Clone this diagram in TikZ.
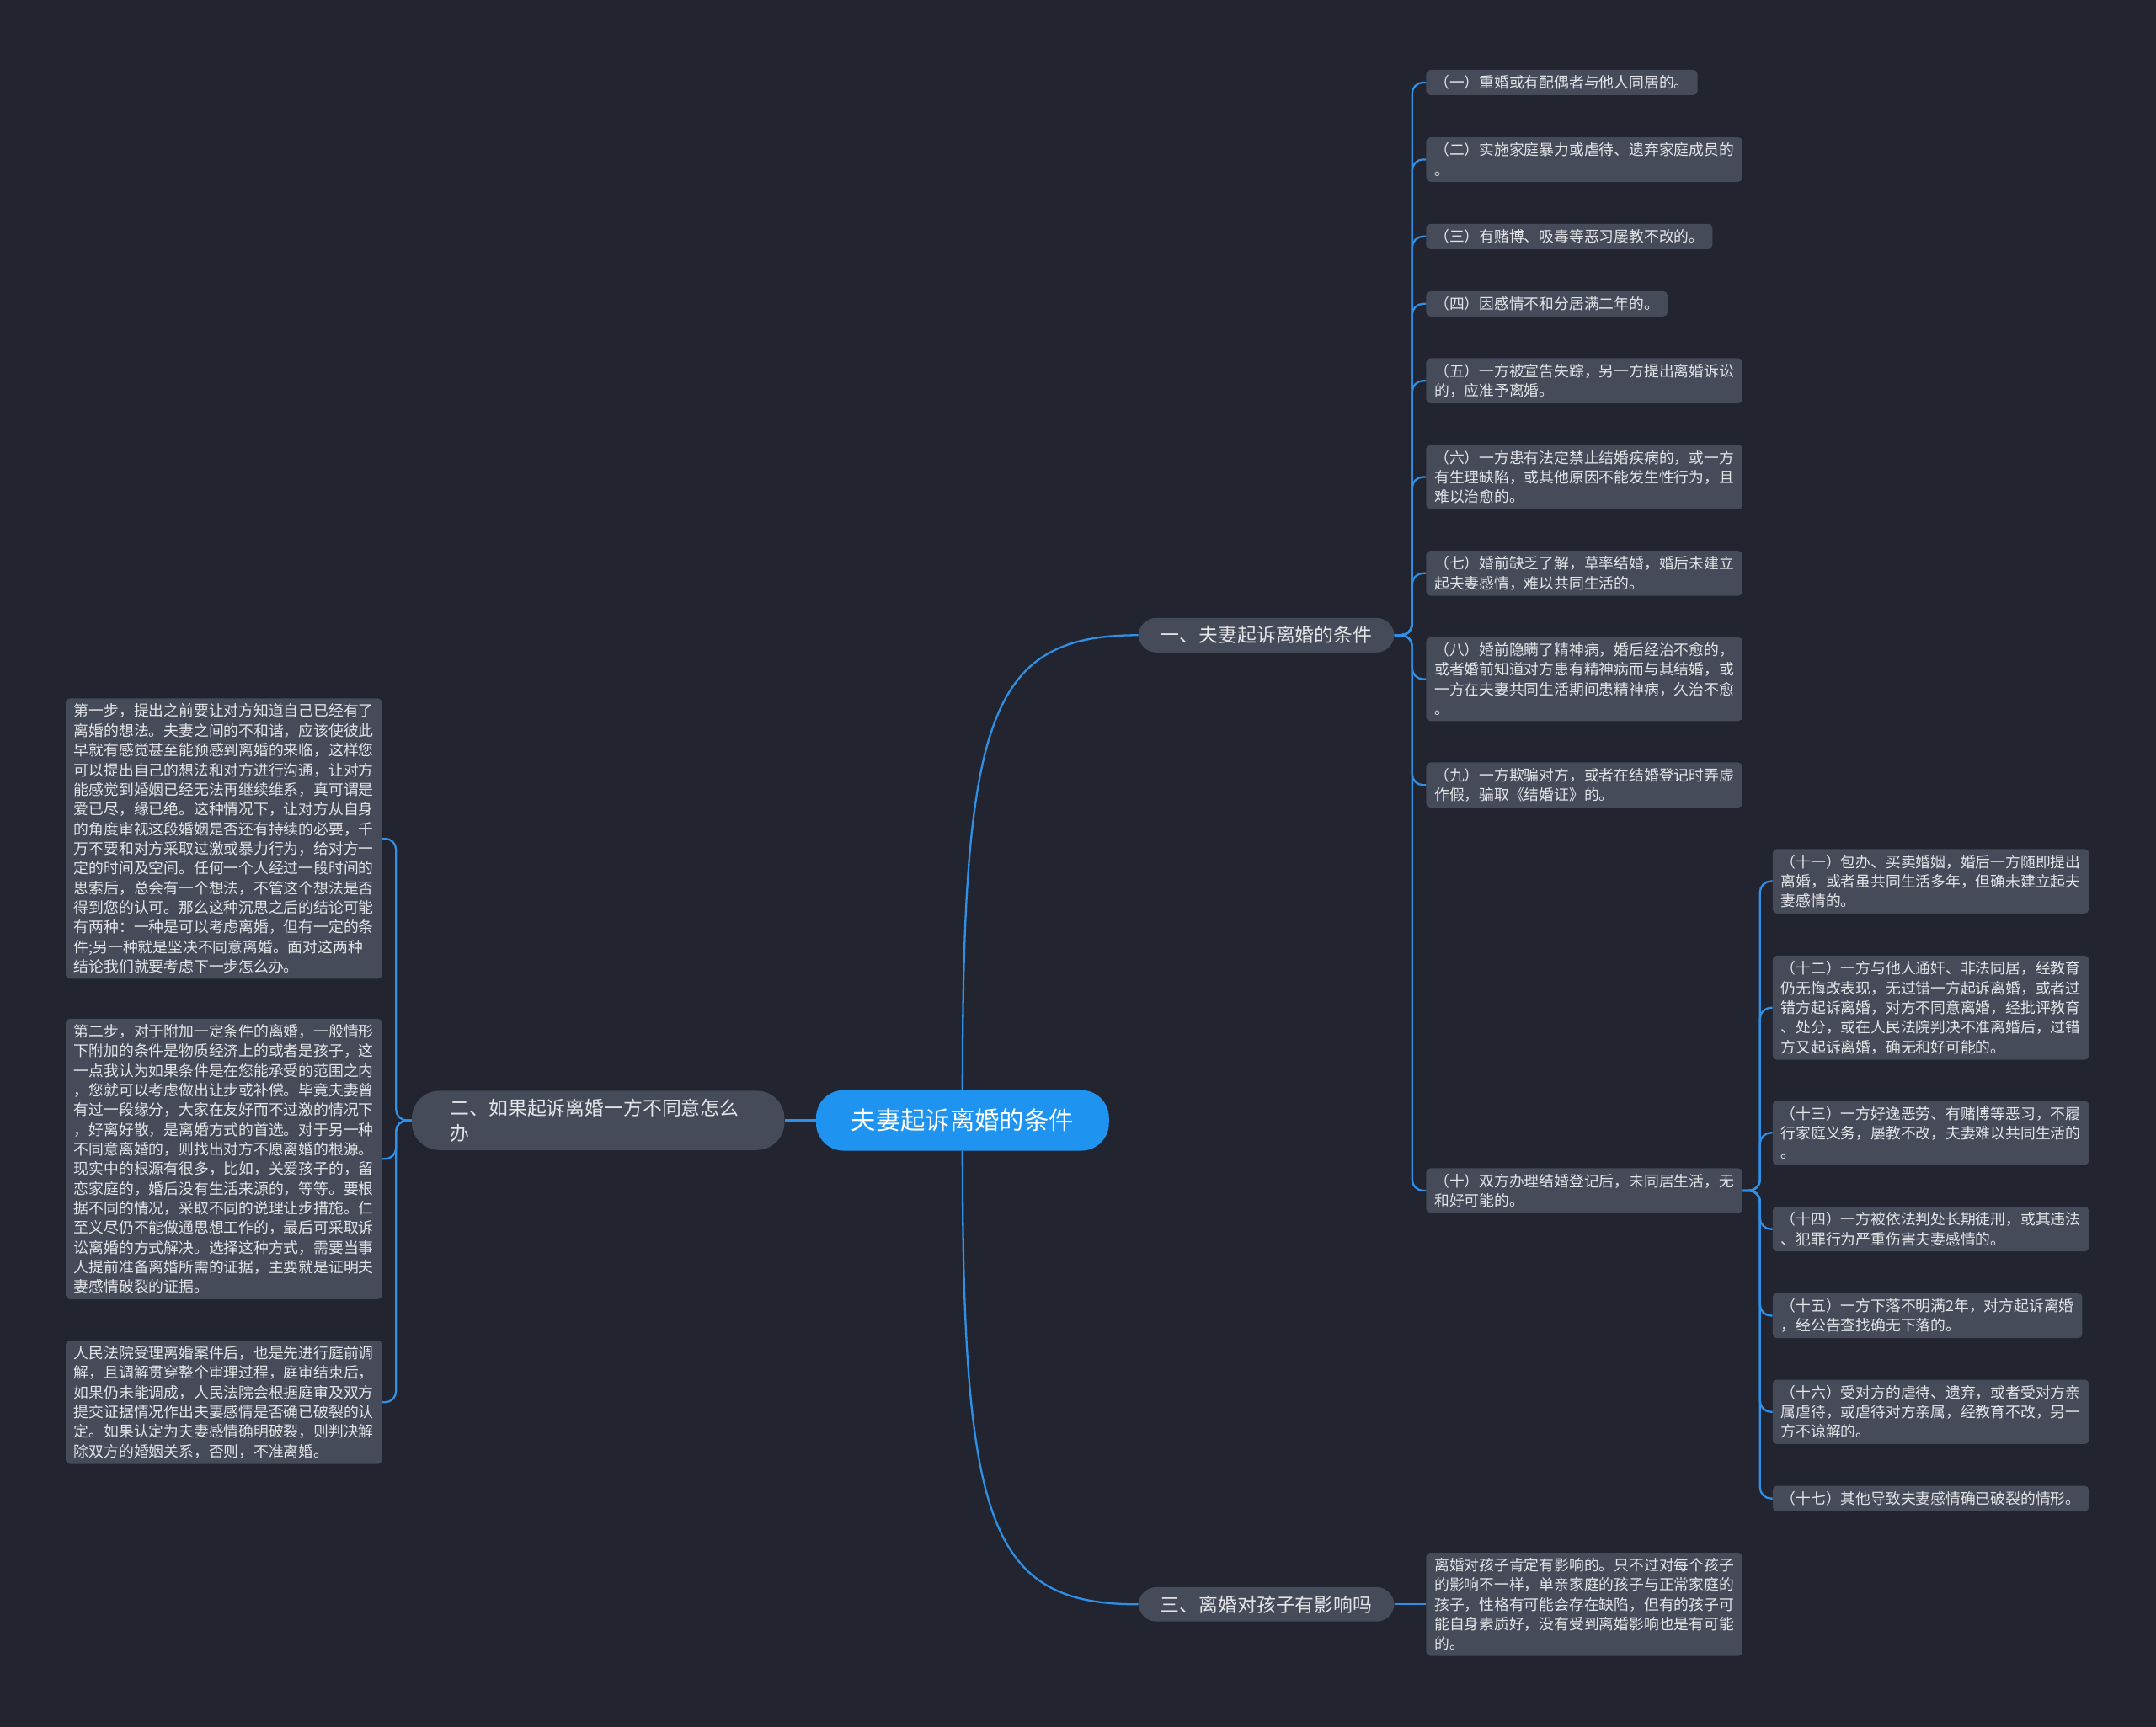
\documentclass[tikz,border=0pt]{standalone}
\usepackage{fontspec}
\setmainfont{Noto Sans CJK SC}
\begin{document}
\definecolor{bg}{HTML}{22252F}
\definecolor{leaf}{HTML}{464B59}
\definecolor{txt}{HTML}{E2E4E8}
\definecolor{ln}{HTML}{2E90E6}
\definecolor{cen}{HTML}{1E94F0}
\begin{tikzpicture}[x=1pt,y=-1pt,
  lf/.style={fill=leaf,text=txt,rounded corners=3,align=left,inner xsep=6,inner ysep=4,font=\fontsize{10.9}{14.3}\selectfont,anchor=west},
  br/.style={fill=leaf,text=txt,rounded corners=13,align=left,inner xsep=16,inner ysep=6,font=\fontsize{14}{18}\selectfont},
  cn/.style={ln,line width=1.4},
  rc/.style={cn,rounded corners=8}]
\fill[bg] (0,0) rectangle (1568,1256);
\useasboundingbox (0,0) rectangle (1568,1256);
\node[fill=cen,text=white,rounded corners=20,minimum width=213,minimum height=44,font=\fontsize{18}{22}\selectfont] (c) at (700,815) {夫妻起诉离婚的条件};
\node[br] (b1) at (921,462) {一、夫妻起诉离婚的条件};
\node[br] (b3) at (921,1167) {三、离婚对孩子有影响吗};
\node[br,text width=215,inner xsep=28,rounded corners=20] (b2) at (435,815) {二、如果起诉离婚一方不同意怎么\\办};
\draw[cn] (c.north) .. controls (700,520) and (720,462) .. (b1.west);
\draw[cn] (c.south) .. controls (700,1110) and (720,1167) .. (b3.west);
\draw[cn] (c.west) -- (b2.east);
% right leaves
\foreach \n/\y/\t in {
 r1/60/{（一）重婚或有配偶者与他人同居的。},
 r2/116/{（二）实施家庭暴力或虐待、遗弃家庭成员的\\。},
 r3/172/{（三）有赌博、吸毒等恶习屡教不改的。},
 r4/221/{（四）因感情不和分居满二年的。},
 r5/277/{（五）一方被宣告失踪，另一方提出离婚诉讼\\的，应准予离婚。},
 r6/347/{（六）一方患有法定禁止结婚疾病的，或一方\\有生理缺陷，或其他原因不能发生性行为，且\\难以治愈的。},
 r7/417/{（七）婚前缺乏了解，草率结婚，婚后未建立\\起夫妻感情，难以共同生活的。},
 r8/494/{（八）婚前隐瞒了精神病，婚后经治不愈的，\\或者婚前知道对方患有精神病而与其结婚，或\\一方在夫妻共同生活期间患精神病，久治不愈\\。},
 r9/571/{（九）一方欺骗对方，或者在结婚登记时弄虚\\作假，骗取《结婚证》的。},
 r10/866/{（十）双方办理结婚登记后，未同居生活，无\\和好可能的。}}
{\node[lf] (\n) at (1037,\y) {\t};
 \draw[rc] (b1.east) -- (1027,462) |- (\n.west);}
\foreach \n/\y/\t in {
 s11/641/{（十一）包办、买卖婚姻，婚后一方随即提出\\离婚，或者虽共同生活多年，但确未建立起夫\\妻感情的。},
 s12/733/{（十二）一方与他人通奸、非法同居，经教育\\仍无悔改表现，无过错一方起诉离婚，或者过\\错方起诉离婚，对方不同意离婚，经批评教育\\、处分，或在人民法院判决不准离婚后，过错\\方又起诉离婚，确无和好可能的。},
 s13/824/{（十三）一方好逸恶劳、有赌博等恶习，不履\\行家庭义务，屡教不改，夫妻难以共同生活的\\。},
 s14/894/{（十四）一方被依法判处长期徒刑，或其违法\\、犯罪行为严重伤害夫妻感情的。},
 s15/957/{（十五）一方下落不明满2年，对方起诉离婚\\，经公告查找确无下落的。},
 s16/1027/{（十六）受对方的虐待、遗弃，或者受对方亲\\属虐待，或虐待对方亲属，经教育不改，另一\\方不谅解的。},
 s17/1090/{（十七）其他导致夫妻感情确已破裂的情形。}}
{\node[lf] (\n) at (1289,\y) {\t};
 \draw[rc] (r10.east) -- (1280,866) |- (\n.west);}
\node[lf] (t1) at (1037,1167) {离婚对孩子肯定有影响的。只不过对每个孩子\\的影响不一样，单亲家庭的孩子与正常家庭的\\孩子，性格有可能会存在缺陷，但有的孩子可\\能自身素质好，没有受到离婚影响也是有可能\\的。};
\draw[cn] (b3.east) -- (t1.west);
% left leaves
\tikzset{ll/.style={lf,anchor=east}}
\node[ll] (l1) at (278,610) {第一步，提出之前要让对方知道自己已经有了\\离婚的想法。夫妻之间的不和谐，应该使彼此\\早就有感觉甚至能预感到离婚的来临，这样您\\可以提出自己的想法和对方进行沟通，让对方\\能感觉到婚姻已经无法再继续维系，真可谓是\\爱已尽，缘已绝。这种情况下，让对方从自身\\的角度审视这段婚姻是否还有持续的必要，千\\万不要和对方采取过激或暴力行为，给对方一\\定的时间及空间。任何一个人经过一段时间的\\思索后，总会有一个想法，不管这个想法是否\\得到您的认可。那么这种沉思之后的结论可能\\有两种：一种是可以考虑离婚，但有一定的条\\件;另一种就是坚决不同意离婚。面对这两种\\结论我们就要考虑下一步怎么办。};
\node[ll] (l2) at (278,843) {第二步，对于附加一定条件的离婚，一般情形\\下附加的条件是物质经济上的或者是孩子，这\\一点我认为如果条件是在您能承受的范围之内\\，您就可以考虑做出让步或补偿。毕竟夫妻曾\\有过一段缘分，大家在友好而不过激的情况下\\，好离好散，是离婚方式的首选。对于另一种\\不同意离婚的，则找出对方不愿离婚的根源。\\现实中的根源有很多，比如，关爱孩子的，留\\恋家庭的，婚后没有生活来源的，等等。要根\\据不同的情况，采取不同的说理让步措施。仁\\至义尽仍不能做通思想工作的，最后可采取诉\\讼离婚的方式解决。选择这种方式，需要当事\\人提前准备离婚所需的证据，主要就是证明夫\\妻感情破裂的证据。};
\node[ll] (l3) at (278,1020) {人民法院受理离婚案件后，也是先进行庭前调\\解，且调解贯穿整个审理过程，庭审结束后，\\如果仍未能调成，人民法院会根据庭审及双方\\提交证据情况作出夫妻感情是否确已破裂的认\\定。如果认定为夫妻感情确明破裂，则判决解\\除双方的婚姻关系，否则，不准离婚。};
\foreach \n in {l1,l2,l3} \draw[rc] (b2.west) -- (288,815) |- (\n.east);
\end{tikzpicture}
\end{document}
